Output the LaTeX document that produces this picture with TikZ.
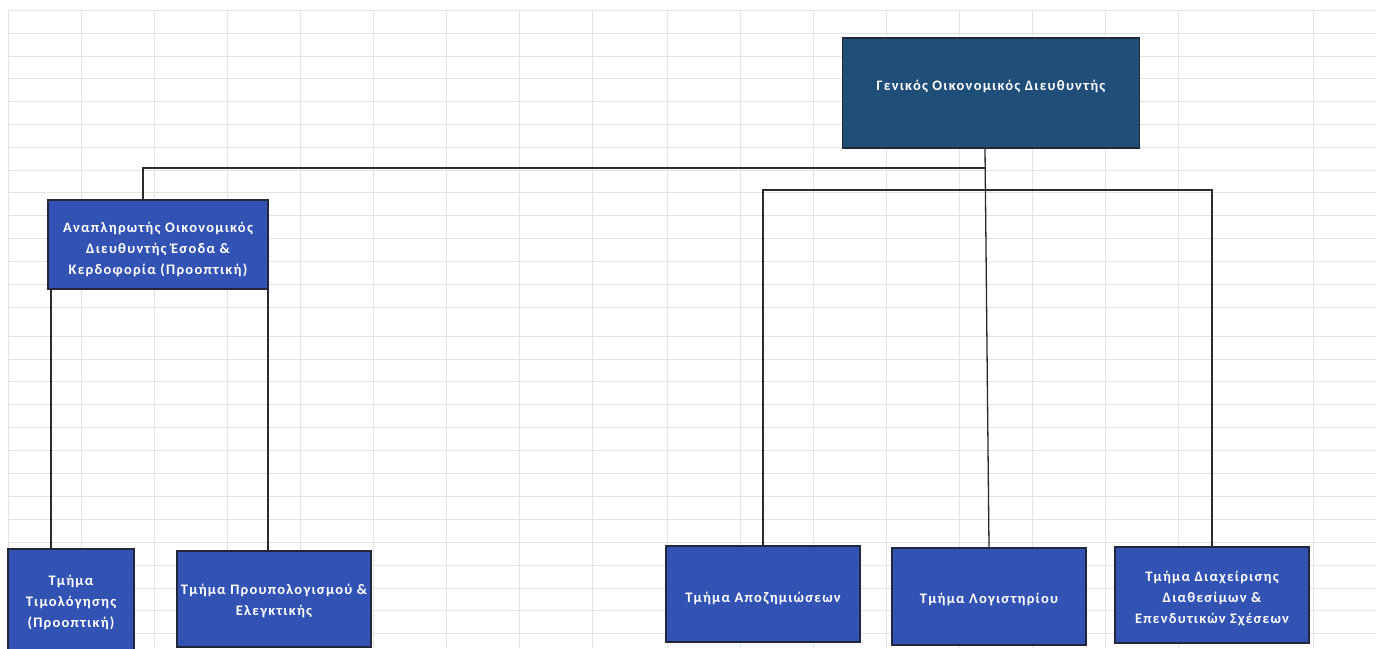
\documentclass[tikz,border=0pt]{standalone}
\usepackage{fontspec}
\setmainfont{Carlito}[LetterSpace=8.5]
\definecolor{gridc}{HTML}{E3E3E3}
\definecolor{topfill}{HTML}{1F4E79}
\definecolor{boxfill}{HTML}{3253B4}
\definecolor{boxline}{HTML}{22283A}
\definecolor{conn}{HTML}{2A2A2A}
\newcommand{\orgtxt}[2]{\raisebox{#1}[0pt][0pt]{\begin{tabular}{@{}c@{}}#2\end{tabular}}}
\tikzset{
  orgbox/.style={draw=boxline, line width=1.3pt, fill=boxfill, text=white, font=\bfseries\fontsize{14.5}{20.7}\selectfont, align=center, inner sep=0pt},
  topbox/.style={orgbox, fill=topfill},
  link/.style={draw=conn, line width=1.3pt},
  gridline/.style={draw=gridc, line width=1pt}
}
\begin{document}
\begin{tikzpicture}[x=1pt,y=-1pt]
\useasboundingbox (0,0) rectangle (1376,648);
\fill[white] (0,0) rectangle (1376,648);
% spreadsheet grid
\foreach \gx in {8,81,154,227,300,373,446,519,592,667,740,813,886,959,1032,1105,1178,1313}
  \draw[gridline] (\gx,10) -- (\gx,648);
\foreach \gy in {10,33,56,78,101,124,147,170,192,215,238,261,284,307,336,359,381,404,427,450,473,496,519,542,565,588,610,633}
  \draw[gridline] (8,\gy) -- (1376,\gy);
% boxes
\node[topbox, minimum width=297pt, minimum height=110pt] (top) at (991,93) {\orgtxt{3pt}{Γενικός Οικονομικός Διευθυντής}};
\node[orgbox, minimum width=220pt, minimum height=89pt] (dep) at (158,244.5) {\orgtxt{-8.5pt}{Αναπληρωτής Οικονομικός\\Διευθυντής Έσοδα \&\\Κερδοφορία (Προοπτική)}};
\node[orgbox, minimum width=126pt, minimum height=102pt] (tim) at (71,600) {\orgtxt{-6pt}{Τμήμα\\Τιμολόγησης\\(Προοπτική)}};
\node[orgbox, minimum width=194pt, minimum height=96pt] (pro) at (274,599) {\orgtxt{-5.5pt}{Τμήμα Προυπολογισμού \&\\Ελεγκτικής}};
\node[orgbox, minimum width=194pt, minimum height=96pt] (apo) at (763,594) {\orgtxt{-8pt}{Τμήμα Αποζημιώσεων}};
\node[orgbox, minimum width=194pt, minimum height=97pt] (log) at (989,596.5) {\orgtxt{-6.5pt}{Τμήμα Λογιστηρίου}};
\node[orgbox, minimum width=194pt, minimum height=96pt] (dia) at (1212,595) {\orgtxt{-7pt}{Τμήμα Διαχείρισης\\Διαθεσίμων \&\\Επενδυτικών Σχέσεων}};
% junctions
\coordinate (ts) at ([xshift=-6pt]top.south);
\coordinate (j1) at (985,168);
\coordinate (j2) at (985,190);
\coordinate (dn) at ([xshift=-15pt]dep.north);
\coordinate (tn) at ([xshift=-20pt]tim.north);
\coordinate (pn) at ([xshift=-6pt]pro.north);
% connectors
\draw[link] (ts) -- (log.north);
\draw[link] (j1) -| (dn);
\draw[link] (apo.north) -- (apo.north |- j2) -- (dia.north |- j2) -- (dia.north);
\draw[link] (tn |- dep.south) -- (tn);
\draw[link] (pn |- dep.south) -- (pn);
\end{tikzpicture}
\end{document}
